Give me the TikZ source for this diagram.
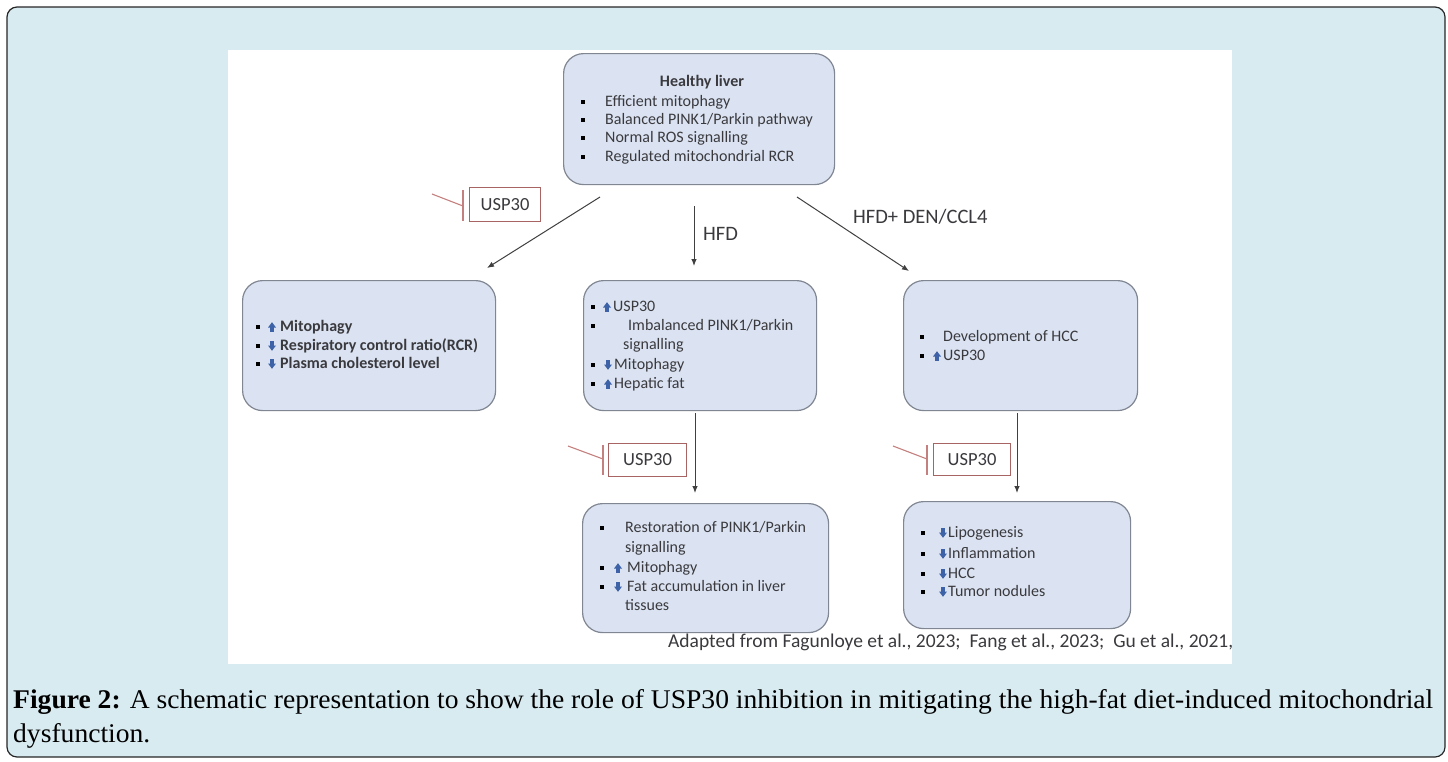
\documentclass[tikz,border=0pt]{standalone}
\usepackage{fontspec}
\usepackage{graphicx}
\setmainfont{Carlito}
\newfontfamily\capfont{Liberation Serif}
\usetikzlibrary{arrows.meta}
\definecolor{bgblue}{RGB}{216,235,241}
\definecolor{boxfill}{RGB}{219,227,242}
\definecolor{boxline}{RGB}{128,134,146}
\definecolor{txt}{RGB}{58,58,62}
\definecolor{arrblue}{RGB}{62,98,168}
\definecolor{inhib}{RGB}{196,128,126}
\definecolor{uspline}{RGB}{168,100,98}
\newlength\capw
\newcommand\bul[2]{\fill[black] (#1-2.4,#2-2.4) rectangle ++(4.8,4.8);}
\newcommand\capone{\textbf{Figure 2:} A schematic representation to show the role of USP30 inhibition in mitigating the high-fat diet-induced mitochondrial}
\tikzset{
  uparr/.pic={\fill[arrblue] (-4,0.5) -- (0,-4.8) -- (4,0.5) -- (1.9,0.5) -- (1.9,4.8) -- (-1.9,4.8) -- (-1.9,0.5) -- cycle;},
  dnarr/.pic={\fill[arrblue] (-4,-0.5) -- (0,4.8) -- (4,-0.5) -- (1.9,-0.5) -- (1.9,-4.8) -- (-1.9,-4.8) -- (-1.9,-0.5) -- cycle;}
}
\begin{document}
\settowidth\capw{\capfont\fontsize{27}{32}\selectfont\capone}%
\pgfmathsetmacro\capsx{1420/\capw}%
\begin{tikzpicture}[x=1pt,y=-1pt,
  box/.style={draw=boxline, fill=boxfill, line width=1.2pt, rounded corners=20pt, inner sep=0pt, anchor=north west},
  tline/.style={anchor=west, inner sep=0pt, text height=11pt, text depth=3pt, font=\fontsize{16}{19}\selectfont, text=txt},
  uspbox/.style={draw=uspline, fill=white, line width=1.1pt, inner sep=0pt, anchor=north west, font=\fontsize{18.5}{22}\selectfont, text=txt},
  inh/.style={draw=inhib, line width=1.1pt},
  conn/.style={draw=black!75, line width=1pt, -{Latex[length=7pt,width=5.5pt]}},
  lbl/.style={anchor=west, inner sep=0pt, font=\fontsize{20.5}{24}\selectfont, text=txt}
]
\useasboundingbox (0,0) rectangle (1448,761);
% outer frame
\draw[fill=bgblue, draw=black!85, line width=1.2pt, rounded corners=10pt] (7,7) rectangle (1445,757);
% white panel
\fill[white] (228,50) rectangle (1232,664);

% boxes
\node[box, minimum width=271pt, minimum height=131pt] (top) at (563,53) {};
\node[box, minimum width=253pt, minimum height=130pt] (lbox) at (242,280) {};
\node[box, minimum width=233pt, minimum height=130pt] (mbox) at (583,280) {};
\node[box, minimum width=234pt, minimum height=130pt] (rbox) at (903,280) {};
\node[box, minimum width=246pt, minimum height=129pt] (bmbox) at (582,503) {};
\node[box, minimum width=227pt, minimum height=127pt] (brbox) at (903,501) {};

% top box text
\node[tline, anchor=center, font=\bfseries\fontsize{16}{19}\selectfont] (th) at (702,82) {Healthy liver};
\bul{583}{102}\node[tline] (t1) at (605,102) {Efficient mitophagy};
\bul{583}{120}\node[tline] (t2) at (605,120) {Balanced PINK1/Parkin pathway};
\bul{583}{138}\node[tline] (t3) at (605,138) {Normal ROS signalling};
\bul{583}{157}\node[tline] (t4) at (605,157) {Regulated mitochondrial RCR};

% left box text
\bul{258}{327}\pic at (272,327) {uparr};\node[tline, font=\bfseries\fontsize{16}{19}\selectfont] (l1) at (280,327) {Mitophagy};
\bul{258}{346}\pic at (272,346) {dnarr};\node[tline, font=\bfseries\fontsize{16}{19}\selectfont] (l2) at (280,346) {Respiratory control ratio(RCR)};
\bul{258}{364}\pic at (272,364) {dnarr};\node[tline, font=\bfseries\fontsize{16}{19}\selectfont] (l3) at (280,364) {Plasma cholesterol level};

% middle box text
\bul{593}{307}\pic at (607,307) {uparr};\node[tline] (m1) at (613,307) {USP30};
\bul{593}{326}\node[tline] (m2) at (628,326) {Imbalanced PINK1/Parkin};
\node[tline] (m3) at (623,345) {signalling};
\bul{593}{365}\pic at (608,365) {dnarr};\node[tline] (m4) at (614,365) {Mitophagy};
\bul{593}{384}\pic at (608,384) {uparr};\node[tline] (m5) at (614,384) {Hepatic fat};

% right box text
\bul{922}{337}\node[tline] (r1) at (943,337) {Development of HCC};
\bul{922}{356}\pic at (937,356) {uparr};\node[tline] (r2) at (943,356) {USP30};

% bottom middle text
\bul{602}{528}\node[tline] (b1) at (625,528) {Restoration of PINK1/Parkin};
\node[tline] (b2) at (625,548) {signalling};
\bul{602}{568}\pic at (618,568) {uparr};\node[tline] (b3) at (627,568) {Mitophagy};
\bul{602}{587}\pic at (618,587) {dnarr};\node[tline] (b4) at (627,587) {Fat accumulation in liver};
\node[tline] (b5) at (625,606) {tissues};

% bottom right text
\bul{923}{533}\pic at (943,533) {dnarr};\node[tline] (c1) at (948,533) {Lipogenesis};
\bul{923}{554}\pic at (943,554) {dnarr};\node[tline] (c2) at (948,554) {Inflammation};
\bul{923}{574}\pic at (943,574) {dnarr};\node[tline] (c3) at (948,574) {HCC};
\bul{923}{592}\pic at (943,592) {dnarr};\node[tline] (c4) at (948,592) {Tumor nodules};

% USP30 inhibitor boxes
\node[uspbox, minimum width=71pt, minimum height=34pt] (u1) at (469,187) {USP30};
\node[uspbox, minimum width=78pt, minimum height=33pt] (u2) at (608,443) {USP30};
\node[uspbox, minimum width=77pt, minimum height=32pt] (u3) at (933,443) {USP30};
\coordinate (i1a) at (432,194); \coordinate (i1b) at (463,206);
\coordinate (i1t) at (463,190); \coordinate (i1d) at (463,221);
\draw[inh] (i1a) -- (i1b); \draw[inh] (i1t) -- (i1d);
\coordinate (i2a) at (568,446); \coordinate (i2b) at (603,459);
\coordinate (i2t) at (603,445); \coordinate (i2d) at (603,475);
\draw[inh] (i2a) -- (i2b); \draw[inh] (i2t) -- (i2d);
\coordinate (i3a) at (893,446); \coordinate (i3b) at (927,459);
\coordinate (i3t) at (927,445); \coordinate (i3d) at (927,475);
\draw[inh] (i3a) -- (i3b); \draw[inh] (i3t) -- (i3d);

% connectors
\coordinate (a1s) at (600,197); \coordinate (a1e) at (487,268);
\coordinate (a2s) at (694,206); \coordinate (a2e) at (694,266);
\coordinate (a3s) at (797,197); \coordinate (a3e) at (909,271);
\coordinate (a4s) at (695,413); \coordinate (a4e) at (695,493);
\coordinate (a5s) at (1017,413); \coordinate (a5e) at (1017,493);
\draw[conn] (a1s) -- (a1e);
\draw[conn] (a2s) -- (a2e);
\draw[conn] (a3s) -- (a3e);
\draw[conn] (a4s) -- (a4e);
\draw[conn] (a5s) -- (a5e);
\node[lbl] (hfd) at (703,234) {HFD};
\node[lbl] (hfd2) at (853,217) {HFD+ DEN/CCL4};

% citation
\node[tline, font=\fontsize{19.5}{23}\selectfont] (cite) at (668,643) {Adapted from Fagunloye et al., 2023;\ \ Fang et al., 2023;\ \ Gu et al., 2021,};

% caption
\node[anchor=base west, inner sep=0pt] (cap1) at (13,708) {\scalebox{\capsx}[1]{\capfont\fontsize{27}{32}\selectfont\capone}};
\node[anchor=base west, inner sep=0pt] (cap2) at (13,742) {\scalebox{\capsx}[1]{\capfont\fontsize{27}{32}\selectfont dysfunction.}};
\end{tikzpicture}
\end{document}
